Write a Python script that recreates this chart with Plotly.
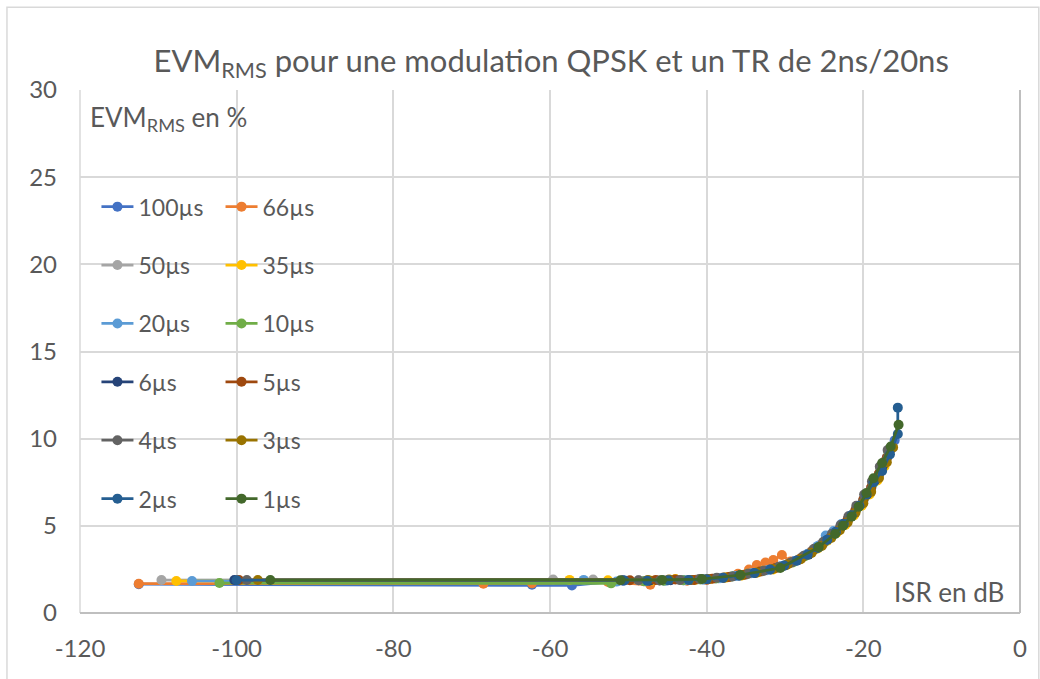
import plotly.graph_objects as go

# ISR (dB) / EVM_RMS (%) measurements, one series per duration
names = ["100µs", "66µs", "50µs", "35µs", "20µs", "10µs",
         "6µs", "5µs", "4µs", "3µs", "2µs", "1µs"]
colors = ["#4472C4", "#ED7D31", "#A5A5A5", "#FFC000", "#5B9BD5", "#70AD47",
          "#264478", "#9E480E", "#636363", "#997300", "#255E91", "#43682B"]

isr_100 = [-112.5, -62.3, -57.2, -50.7, -48.0, -45.5, -43.0, -40.5, -38.5, -36.5, -34.5, -32.5, -30.5,
           -28.8, -27.2, -26.0, -25.0, -24.0, -23.0, -22.0, -21.0, -20.0, -19.0, -18.0, -17.0, -16.0]
evm_100 = [1.65, 1.62, 1.58, 1.85, 1.82, 1.86, 1.88, 1.92, 2.0, 2.12, 2.28, 2.45, 2.68,
           2.98, 3.35, 3.75, 4.1, 4.5, 4.9, 5.35, 5.85, 6.45, 7.15, 7.95, 8.9, 9.9]

isr_66 = [-112.5, -68.5, -62.3, -52.6, -47.2, -45.0, -42.5, -40.0, -38.0, -36.0, -34.6, -33.6, -32.5,
          -31.5, -30.4, -29.3, -28.0, -26.8, -25.5, -24.3, -23.2, -22.2, -21.2, -20.2, -19.2, -18.2, -17.2]
evm_66 = [1.68, 1.68, 1.7, 1.78, 1.62, 1.88, 1.85, 1.9, 2.02, 2.25, 2.5, 2.75, 2.89,
          3.04, 3.33, 2.95, 3.1, 3.45, 3.85, 4.3, 4.75, 5.2, 5.7, 6.25, 6.95, 7.8, 8.7]

isr_50 = [-109.6, -59.6, -54.5, -48.7, -46.0, -43.5, -41.2, -39.0, -37.0, -35.0, -33.0, -31.0,
          -29.5, -28.0, -26.6, -25.4, -24.2, -23.0, -22.0, -21.0, -20.0, -19.0, -18.0, -17.0]
evm_50 = [1.89, 1.92, 1.92, 1.88, 1.86, 1.9, 1.92, 1.98, 2.08, 2.2, 2.38, 2.6,
          2.85, 3.15, 3.55, 3.95, 4.4, 4.9, 5.35, 5.9, 6.5, 7.2, 8.0, 8.9]

isr_35 = [-107.7, -57.5, -52.6, -47.0, -44.0, -41.5, -39.5, -37.5, -35.5, -33.5, -31.5, -29.8,
          -28.3, -27.0, -25.8, -24.6, -23.4, -22.3, -21.2, -20.2, -19.2, -18.2, -17.3]
evm_35 = [1.84, 1.9, 1.88, 1.85, 1.95, 1.9, 1.95, 2.03, 2.15, 2.32, 2.5, 2.75,
          3.05, 3.35, 3.7, 4.15, 4.6, 5.05, 5.6, 6.15, 6.8, 7.6, 8.4]

isr_20 = [-105.7, -55.7, -51.5, -47.8, -45.2, -42.8, -40.3, -38.3, -36.3, -34.3, -32.3, -30.3,
          -28.6, -27.1, -25.8, -24.8, -23.8, -22.8, -21.8, -20.8, -19.8, -18.8, -17.8]
evm_20 = [1.84, 1.9, 1.8, 1.82, 1.85, 1.88, 1.92, 2.0, 2.12, 2.28, 2.45, 2.68,
          3.0, 3.4, 3.85, 4.45, 4.7, 5.1, 5.55, 6.05, 6.7, 7.45, 8.3]

isr_10 = [-102.2, -52.2, -48.0, -45.5, -43.0, -40.8, -38.8, -36.8, -34.8, -32.8, -30.8, -29.0,
          -27.5, -26.2, -25.0, -23.9, -22.8, -21.8, -20.8, -19.8, -18.8, -17.8, -16.8]
evm_10 = [1.72, 1.7, 1.82, 1.85, 1.88, 1.92, 1.98, 2.1, 2.25, 2.42, 2.62, 2.9,
          3.25, 3.65, 4.05, 4.5, 4.95, 5.45, 6.0, 6.65, 7.4, 8.25, 9.2]

isr_6 = [-100.3, -50.7, -47.3, -44.6, -42.0, -39.8, -37.8, -35.8, -33.8, -31.8, -30.0, -28.4,
         -27.0, -25.8, -24.6, -23.5, -22.5, -21.5, -20.5, -19.5, -18.5, -17.5, -16.5]
evm_6 = [1.89, 1.88, 1.85, 1.88, 1.9, 1.94, 2.02, 2.15, 2.3, 2.5, 2.72, 3.02,
         3.35, 3.75, 4.2, 4.65, 5.1, 5.6, 6.15, 6.8, 7.6, 8.45, 9.4]

isr_5 = [-99.7, -49.8, -46.5, -44.0, -41.6, -39.3, -37.2, -35.2, -33.2, -31.2, -29.4,
         -27.9, -26.5, -25.2, -24.1, -23.0, -22.0, -21.0, -20.0, -19.0, -18.0, -17.0]
evm_5 = [1.89, 1.88, 1.9, 1.92, 1.9, 1.96, 2.06, 2.2, 2.38, 2.58, 2.85,
         3.15, 3.55, 3.95, 4.4, 4.85, 5.35, 5.9, 6.5, 7.2, 8.0, 8.9]

isr_4 = [-98.7, -48.7, -46.0, -43.4, -40.9, -38.7, -36.7, -34.7, -32.7, -30.8, -29.1,
         -27.6, -26.3, -25.1, -24.0, -22.9, -21.9, -20.9, -19.9, -18.9, -17.9, -16.9]
evm_4 = [1.89, 1.88, 1.86, 1.9, 1.95, 2.02, 2.1, 2.25, 2.42, 2.65, 2.92,
         3.28, 3.68, 4.08, 4.55, 5.05, 5.55, 6.15, 6.8, 7.55, 8.4, 9.35]

isr_3 = [-97.3, -47.5, -44.8, -42.2, -39.9, -37.7, -35.6, -33.6, -31.6, -29.7, -28.0,
         -26.6, -25.3, -24.1, -23.0, -22.0, -21.0, -20.0, -19.0, -18.0, -17.0, -16.2]
evm_3 = [1.89, 1.9, 1.92, 1.9, 1.95, 2.04, 2.16, 2.32, 2.52, 2.78, 3.08,
         3.45, 3.85, 4.3, 4.75, 5.2, 5.75, 6.3, 6.95, 7.75, 8.65, 9.5]

isr_2 = [-100.0, -50.5, -47.6, -44.9, -42.3, -40.0, -37.9, -35.9, -33.9, -31.9, -30.1, -28.5,
         -27.1, -25.8, -24.6, -23.5, -22.5, -21.5, -20.5, -19.6, -18.7, -17.6, -16.6, -15.6, -15.6]
evm_2 = [1.88, 1.86, 1.85, 1.88, 1.9, 1.94, 2.02, 2.14, 2.3, 2.5, 2.72, 3.0,
         3.35, 3.75, 4.2, 4.65, 5.1, 5.6, 6.15, 6.8, 7.5, 8.15, 9.1, 10.27, 11.78]

isr_1 = [-95.7, -51.0, -45.7, -40.6, -35.7, -30.6, -25.7, -23.6, -22.6, -21.5, -20.6,
         -19.6, -18.7, -17.6, -16.5, -15.5]
evm_1 = [1.89, 1.88, 1.9, 1.95, 2.18, 2.58, 3.78, 4.53, 5.0, 5.53, 6.1,
         6.88, 7.73, 8.6, 9.55, 10.8]

isr_series = [isr_100, isr_66, isr_50, isr_35, isr_20, isr_10,
              isr_6, isr_5, isr_4, isr_3, isr_2, isr_1]
evm_series = [evm_100, evm_66, evm_50, evm_35, evm_20, evm_10,
              evm_6, evm_5, evm_4, evm_3, evm_2, evm_1]

x_ticks = [-120, -100, -80, -60, -40, -20, 0]
y_ticks = [0, 5, 10, 15, 20, 25, 30]

FONT = "Lato"
TXT = "#595959"
GRID = "#D9D9D9"
AXIS = "#BFBFBF"

fig = go.Figure()
for i, (name, col, xs, ys) in enumerate(zip(names, colors, isr_series, evm_series)):
    fig.add_trace(go.Scatter(
        x=xs, y=ys, name=name, mode="lines+markers",
        line=dict(color=col, width=2.75),
        marker=dict(color=col, size=10),
        legend="legend" if i % 2 == 0 else "legend2",
        legendgroup=name,
    ))

legend_style = dict(
    font=dict(family=FONT, size=23, color=TXT),
    bgcolor="rgba(255,255,255,0)",
    tracegroupgap=25.5,
    yanchor="top", xanchor="left",
    itemwidth=32,
)

fig.update_layout(
    width=1040, height=679,
    margin=dict(l=80, r=20, t=90, b=66),
    paper_bgcolor="white", plot_bgcolor="white",
    title=dict(
        text="EVM<sub>RMS</sub> pour une modulation QPSK et un TR de 2ns/20ns",
        x=0.53, xanchor="center", y=0.91, yanchor="middle",
        font=dict(family=FONT, size=31, color=TXT),
    ),
    xaxis=dict(
        range=[-120, 0], tickvals=x_ticks, ticktext=[str(v) for v in x_ticks],
        showgrid=True, gridcolor=GRID, gridwidth=1.5,
        zeroline=True, zerolinecolor=AXIS, zerolinewidth=1.5,
        showline=False, ticks="",
        tickfont=dict(family=FONT, size=24, color=TXT),
        ticklabelstandoff=19,
    ),
    yaxis=dict(
        range=[0, 30], tickvals=y_ticks, ticktext=[str(v) for v in y_ticks],
        showgrid=True, gridcolor=GRID, gridwidth=1.5,
        zeroline=True, zerolinecolor=AXIS, zerolinewidth=1.5,
        showline=False, ticks="",
        tickfont=dict(family=FONT, size=24, color=TXT),
        ticklabelstandoff=22,
    ),
    legend=dict(x=0.0175, y=0.818, **legend_style),
    legend2=dict(x=0.1495, y=0.818, **legend_style),
    showlegend=True,
)

# chart frame and plot-area left edge
fig.add_shape(type="rect", xref="paper", yref="paper",
              x0=-0.0777, x1=1.020, y0=-0.15, y1=1.158,
              line=dict(color=GRID, width=1.5), layer="below")
fig.add_shape(type="line", xref="paper", yref="paper",
              x0=0, x1=0, y0=0, y1=1, line=dict(color=GRID, width=1.5), layer="below")

# axis captions inside the plot area
fig.add_annotation(text="EVM<sub>RMS</sub> en %", xref="paper", yref="paper",
                   x=0.008, y=0.945, xanchor="left", yanchor="middle", showarrow=False,
                   font=dict(family=FONT, size=26, color=TXT))
fig.add_annotation(text="ISR en dB", xref="paper", yref="paper",
                   x=0.985, y=0.04, xanchor="right", yanchor="middle", showarrow=False,
                   font=dict(family=FONT, size=26, color=TXT))

fig.write_html("out.html")
